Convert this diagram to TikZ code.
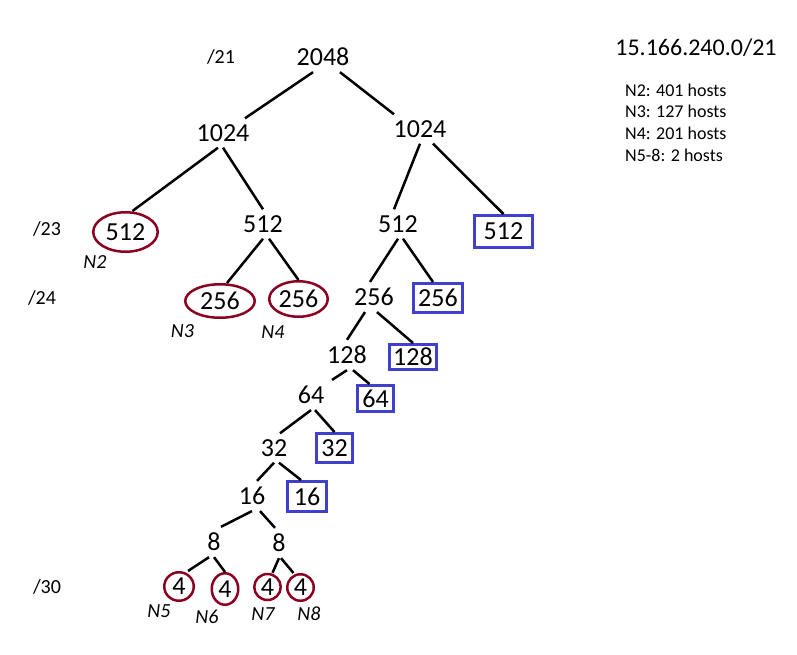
\documentclass[tikz,border=0pt]{standalone}
\usepackage{fontspec}
\setmainfont{Carlito}
\usetikzlibrary{shapes.geometric}
\definecolor{netred}{RGB}{139,0,32}
\definecolor{freeblue}{RGB}{64,64,204}

\begin{document}
\begin{tikzpicture}[x=1pt,y=-1pt,
	num/.style={font=\fontsize{26}{30}\selectfont, inner sep=6pt},
	net/.style={num, ellipse, draw=netred, line width=2.5pt, inner sep=0pt},
	free/.style={num, rectangle, draw=freeblue, line width=3pt, inner sep=0pt},
	pfx/.style={font=\fontsize{20}{24}\selectfont},
	lbl/.style={font=\fontsize{20}{24}\selectfont\itshape},
	info/.style={font=\fontsize{18}{22}\selectfont, anchor=base west, inner sep=0pt},
	edge/.style={black, line width=2.5pt}]
	\useasboundingbox (0,0) rectangle (797,655);

	\node[font=\fontsize{24}{28}\selectfont, anchor=base] at (696,56) (addr) {15.166.240.0/21};
	\node[info] at (625,96.5) (h2) {N2: 401 hosts};
	\node[info] at (625,118) (h3) {N3: 127 hosts};
	\node[info] at (625,140) (h4) {N4: 201 hosts};
	\node[info] at (625,162) (h5) {N5-8: 2 hosts};

	\node[pfx] at (221,57) (p21) {/21};
	\node[pfx] at (47,229) (p23) {/23};
	\node[pfx] at (42,298) (p24) {/24};
	\node[pfx] at (47,587) (p30) {/30};

	\node[num] at (323,57) (n2048) {2048};
	\node[num] at (223,133) (n1024a) {1024};
	\node[num] at (420,129) (n1024b) {1024};
	\node[net, minimum width=64.5pt, minimum height=39.5pt] at (125.5,232) (n512a) {512};
	\node[num] at (263,224) (n512b) {512};
	\node[num] at (398,224) (n512c) {512};
	\node[free, minimum width=58pt, minimum height=32pt] at (503.5,231.5) (f512) {512};
	\node[net, minimum width=69.5pt, minimum height=33.5pt] at (220,301) (n256a) {256};
	\node[net, minimum width=58.5pt, minimum height=35.5pt] at (298.5,299) (n256b) {256};
	\node[num] at (374,297) (n256c) {256};
	\node[free, minimum width=49pt, minimum height=29pt] at (438,298) (f256) {256};
	\node[num] at (347,355) (n128) {128};
	\node[free, minimum width=47pt, minimum height=25pt] at (413,357) (f128) {128};
	\node[num] at (311,395) (n64) {64};
	\node[free, minimum width=36pt, minimum height=26pt] at (375.5,398.5) (f64) {64};
	\node[num] at (274,448) (n32) {32};
	\node[free, minimum width=36pt, minimum height=29pt] at (334.5,448) (f32) {32};
	\node[num] at (252,496) (n16) {16};
	\node[free, minimum width=39pt, minimum height=30pt] at (307,496.5) (f16) {16};
	\node[num] at (214,542) (n8a) {8};
	\node[num] at (279,543) (n8b) {8};
	\node[net, minimum width=29.5pt, minimum height=28.5pt] at (179,586.5) (n4a) {4};
	\node[net, minimum width=26.5pt, minimum height=31.5pt] at (225,589) (n4b) {4};
	\node[net, minimum width=26.5pt, minimum height=26pt] at (267.5,587) (n4c) {4};
	\node[net, minimum width=26.5pt, minimum height=26.5pt] at (300.5,587.5) (n4d) {4};

	\node[lbl] at (95,262) (l2) {N2};
	\node[lbl] at (182.5,331) (l3) {N3};
	\node[lbl] at (273,332) (l4) {N4};
	\node[lbl] at (159,611) (l5) {N5};
	\node[lbl] at (207,617) (l6) {N6};
	\node[lbl] at (263,614) (l7) {N7};
	\node[lbl] at (309,614) (l8) {N8};

	\draw[edge] ([xshift=-10pt]n2048.south) -- ([xshift=22pt]n1024a.north);
	\draw[edge] ([xshift=17pt]n2048.south) -- ([xshift=-26pt]n1024b.north);
	\draw[edge] ([xshift=-5pt]n1024a.south) -- ([xshift=7pt]n512a.north);
	\draw[edge] (n1024a.south) -- (n512b.north);
	\draw[edge] (n1024b.south) -- ([xshift=-4pt]n512c.north);
	\draw[edge] ([xshift=13pt]n1024b.south) -- (f512.north);
	\draw[edge] (n512b.south) -- ([xshift=7pt]n256a.north);
	\draw[edge] ([xshift=6pt]n512b.south) -- (n256b.north);
	\draw[edge] (n512c.south) -- ([xshift=-4pt]n256c.north);
	\draw[edge] ([xshift=5pt]n512c.south) -- ([xshift=-5pt]f256.north);
	\draw[edge] ([xshift=-9pt]n256c.south) -- (n128.north);
	\draw[edge] ([xshift=3pt]n256c.south) -- (f128.north);
	\draw[edge] (n128.south) -- ([xshift=21pt]n64.north);
	\draw[edge] ([xshift=6pt]n128.south) -- ([xshift=-6pt]f64.north);
	\draw[edge] (n64.south) -- ([xshift=6pt]n32.north);
	\draw[edge] ([xshift=4pt]n64.south) -- (f32.north);
	\draw[edge] (n32.south) -- ([xshift=5pt]n16.north);
	\draw[edge] ([xshift=5pt]n32.south) -- ([xshift=-6pt]f16.north);
	\draw[edge] (n16.south) -- ([xshift=7pt]n8a.north);
	\draw[edge] ([xshift=8pt]n16.south) -- ([xshift=-4pt]n8b.north);
	\draw[edge] ([xshift=-5pt]n8a.south) -- ([xshift=9pt]n4a.north);
	\draw[edge] (n8a.south) -- (n4b.north);
	\draw[edge] (n8b.south) -- ([xshift=5pt]n4c.north);
	\draw[edge] ([xshift=2pt]n8b.south) -- ([xshift=-7pt]n4d.north);
\end{tikzpicture}
\end{document}
